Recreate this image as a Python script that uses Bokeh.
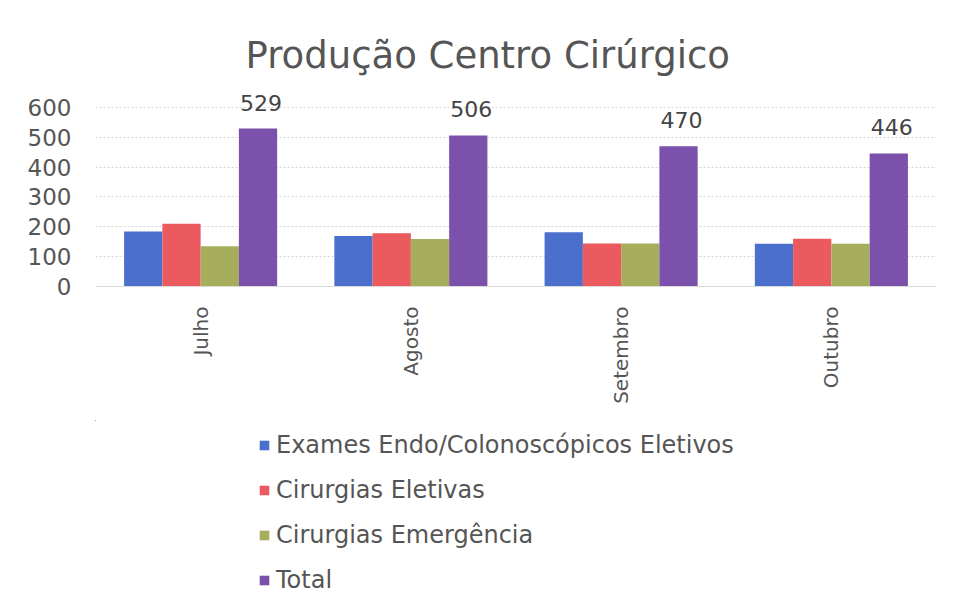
import math
from bokeh.plotting import figure
from bokeh.layouts import column
from bokeh.models import ColumnDataSource, FactorRange, Legend, LegendItem, FixedTicker, Range1d
from bokeh.transform import dodge
from bokeh.core.properties import value
from bokeh.embed import file_html
from bokeh.resources import INLINE

months = ["Julho", "Agosto", "Setembro", "Outubro"]
exames = [184, 169, 182, 143]
eletivas = [210, 178, 144, 160]
emergencia = [135, 159, 144, 143]
total = [529, 506, 470, 446]
y_ticks = [0, 100, 200, 300, 400, 500, 600]

series_names = ["Exames Endo/Colonoscópicos Eletivos", "Cirurgias Eletivas",
                "Cirurgias Emergência", "Total"]
colors = ["#4b6fcc", "#ea5a5e", "#a6ad5b", "#7b51ac"]

src = ColumnDataSource(dict(months=months, exames=exames, eletivas=eletivas,
                            emergencia=emergencia, total=total,
                            total_txt=[str(t) for t in total]))

FONT = "DejaVu Sans"
TXT = "#555555"
W = 938
H_TOP = 420
H_LEG = 174
LEFT = 95

p = figure(x_range=FactorRange(factors=months, range_padding=0), y_range=Range1d(0, 660),
           width=W, height=H_TOP, output_backend="svg", toolbar_location=None,
           min_border_left=LEFT, min_border_right=2, min_border_top=89, min_border_bottom=134,
           title="Produção Centro Cirúrgico")
p.outline_line_color = None
p.background_fill_color = "white"
p.border_fill_color = "white"

p.title.text_font = FONT
p.title.text_font_size = "37px"
p.title.text_font_style = "normal"
p.title.text_color = TXT
p.title.align = "left"
p.title.offset = 150
p.title.standoff = 25

cols = ["exames", "eletivas", "emergencia", "total"]
offsets = [-0.273, -0.091, 0.091, 0.273]
for c, off, col in zip(cols, offsets, colors):
    p.vbar(x=dodge("months", off, range=p.x_range), top=c, width=0.182,
           source=src, fill_color=col, line_color=None)

p.text(x=dodge("months", 0.273, range=p.x_range), y="total", text="total_txt", source=src,
       text_align="center", text_baseline="bottom", y_offset=-18, x_offset=3,
       text_font=value(FONT), text_font_size="22px", text_color="#444444")

# axes
p.yaxis.ticker = FixedTicker(ticks=y_ticks)
p.yaxis.axis_line_color = None
p.yaxis.major_tick_line_color = None
p.yaxis.minor_tick_line_color = None
p.yaxis.major_label_text_font = FONT
p.yaxis.major_label_text_font_size = "23px"
p.yaxis.major_label_text_color = TXT
p.yaxis.major_label_standoff = 18

p.xaxis.axis_line_color = "#d9d9d9"
p.xaxis.major_tick_line_color = None
p.xaxis.minor_tick_line_color = None
p.xaxis.major_label_orientation = math.pi / 2
p.xaxis.major_label_text_font = FONT
p.xaxis.major_label_text_font_size = "20px"
p.xaxis.major_label_text_color = TXT
p.xaxis.major_label_standoff = 14

p.xgrid.grid_line_color = None
p.ygrid.grid_line_color = "#d3d3d3"
p.ygrid.grid_line_dash = "2 2"

# legend figure: proxy renderers use the same series, drawn as zero-size
# bars far outside this figure's visible range, so only the legend shows
q = figure(width=W, height=H_LEG, output_backend="svg", toolbar_location=None,
           min_border=0, x_range=Range1d(0, 1), y_range=Range1d(0, 1))
q.axis.visible = False
q.grid.visible = False
q.outline_line_color = None
q.border_fill_color = "white"
rends = [q.vbar(x=-50, bottom=c, top=c, width=0, source=src,
                fill_color=col, line_color=None) for c, col in zip(cols, colors)]

legend = Legend(items=[LegendItem(label=n, renderers=[r], index=0)
                       for n, r in zip(series_names, rends)],
                location=(258 - LEFT, 0), orientation="vertical")
legend.label_text_font = FONT
legend.label_text_font_size = "24px"
legend.label_text_color = TXT
legend.label_height = 24
legend.glyph_height = 12
legend.glyph_width = 12
legend.spacing = 17
legend.padding = 0
legend.margin = 0
legend.label_standoff = 6
legend.border_line_color = None
legend.background_fill_alpha = 0
q.add_layout(legend, "center")

layout = column(p, q, spacing=0)
open("out.html", "w").write(file_html(layout, INLINE))
